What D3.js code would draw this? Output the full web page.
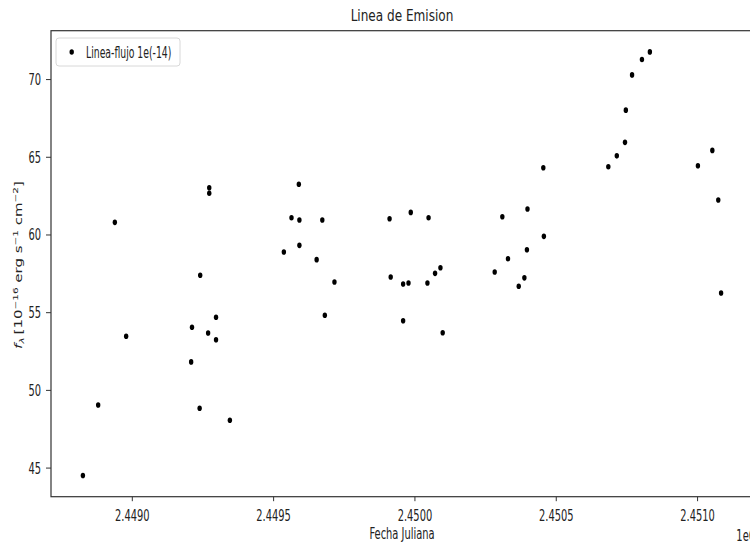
<!DOCTYPE html>
<html>
<head>
<meta charset="utf-8">
<script src="https://cdn.jsdelivr.net/npm/d3@7"></script>
<style>
  body { margin: 0; background: #fff; }
  text { font-family: "DejaVu Sans", sans-serif; fill: #222; }
</style>
</head>
<body>
<div id="canvas"></div>
<script>
(function (d3) {
  'use strict';

  // fecha juliana de cada observacion
  const fechaJuliana = [
    2448827, 2448881, 2448940, 2448980, 2449210, 2449213, 2449240, 2449242,
    2449270, 2449274, 2449274, 2449298, 2449298, 2449347, 2449538, 2449565,
    2449593, 2449591, 2449593, 2449654, 2449674, 2449683, 2449717, 2449912,
    2449916, 2449960, 2449960, 2449979, 2449987, 2450046, 2450050, 2450073,
    2450092, 2450100, 2450284, 2450311, 2450331, 2450369, 2450389, 2450398,
    2450400, 2450458, 2450456, 2450686, 2450716, 2450745, 2450748, 2450770,
    2450805, 2450833, 2451003, 2451054, 2451075, 2451085
  ];
  // flujo de la linea, 1e-16 erg s-1 cm-2
  const flujo = [
    44.49, 49.03, 60.78, 53.45, 51.80, 54.03, 48.82, 57.38,
    53.66, 63.01, 62.65, 54.67, 53.23, 48.05, 58.87, 61.08,
    60.93, 63.23, 59.30, 58.38, 60.93, 54.80, 56.94, 61.01,
    57.26, 54.45, 56.81, 56.88, 61.42, 56.88, 61.08, 57.50,
    57.86, 53.68, 57.59, 61.14, 58.44, 56.67, 57.21, 59.02,
    61.64, 59.88, 64.29, 64.36, 65.06, 65.93, 68.00, 70.27,
    71.26, 71.75, 64.42, 65.41, 62.22, 56.23
  ];
  const xTickValues = [2449000, 2449500, 2450000, 2450500, 2451000];
  const yTickValues = [45, 50, 55, 60, 65, 70];
  const titulo = 'Linea de Emision';
  const xLabel = 'Fecha Juliana';
  const serieLabel = 'Linea-flujo 1e(-14)';

  const width = 750;
  const height = 546;
  const left = 51, right = 753, top = 30.7, bottom = 496.7;
  const sx = 0.66; // the picture is squeezed sideways

  const svg = d3.select('#canvas')
    .append('svg')
    .attr('width', width)
    .attr('height', height);

  const pad = (ext) => {
    const m = (ext[1] - ext[0]) * 0.05;
    return [ext[0] - m, ext[1] + m];
  };

  const x = d3.scaleLinear().domain(pad(d3.extent(fechaJuliana))).range([left, right]);
  const y = d3.scaleLinear().domain(pad(d3.extent(flujo))).range([bottom, top]);

  const points = fechaJuliana.map((d, i) => ({ jd: d, f: flujo[i] }));

  // axes
  const xAxis = svg.append('g')
    .attr('transform', `translate(0,${bottom})`)
    .call(d3.axisBottom(x).tickValues(xTickValues).tickSize(4.5)
      .tickFormat(d => (d / 1e6).toFixed(4)));
  xAxis.select('.domain').remove();
  xAxis.selectAll('line').attr('stroke', '#333');
  xAxis.selectAll('text')
    .attr('y', null).attr('dy', null)
    .attr('transform', `translate(0,24.5) scale(${sx},1)`)
    .style('font-size', '15px').style('fill', '#222');

  const yAxis = svg.append('g')
    .attr('transform', `translate(${left},0)`)
    .call(d3.axisLeft(y).tickValues(yTickValues).tickSize(5));
  yAxis.select('.domain').remove();
  yAxis.selectAll('line').attr('stroke', '#333');
  yAxis.selectAll('text')
    .attr('x', null).attr('dy', null)
    .attr('transform', `translate(-10,5.5) scale(${sx},1)`)
    .style('font-size', '15px').style('fill', '#222');

  // spines
  svg.append('rect')
    .attr('x', left).attr('y', top)
    .attr('width', right - left).attr('height', bottom - top)
    .attr('fill', 'none').attr('stroke', '#333').attr('stroke-width', 1.2);

  // points
  svg.selectAll('ellipse.pt')
    .data(points)
    .enter()
    .append('ellipse')
    .attr('class', 'pt')
    .attr('cx', d => x(d.jd))
    .attr('cy', d => y(d.f))
    .attr('rx', 2.2)
    .attr('ry', 2.8)
    .attr('fill', 'black');

  // title and labels
  svg.append('text')
    .attr('transform', `translate(402,21) scale(0.78,1)`)
    .attr('text-anchor', 'middle')
    .style('font-size', '15.5px')
    .text(titulo);

  svg.append('text')
    .attr('transform', `translate(402,539) scale(${sx},1)`)
    .attr('text-anchor', 'middle')
    .style('font-size', '15px')
    .text(xLabel);

  svg.append('text')
    .attr('transform', `translate(755,541) scale(${sx},1)`)
    .attr('text-anchor', 'end')
    .style('font-size', '15px')
    .text('1e6');

  const yl = svg.append('text')
    .attr('transform', `translate(22,265) scale(${sx},1) rotate(-90)`)
    .attr('text-anchor', 'middle')
    .style('font-size', '15px');
  yl.append('tspan').style('font-style', 'italic').text('f');
  yl.append('tspan').attr('dy', 3).style('font-size', '10.5px').style('font-style', 'italic').text('λ');
  yl.append('tspan').attr('dy', -3).text('\u2009[10');
  yl.append('tspan').attr('dy', -6).style('font-size', '10.5px').text('−16');
  yl.append('tspan').attr('dy', 6).text(' erg s');
  yl.append('tspan').attr('dy', -6).style('font-size', '10.5px').text('−1');
  yl.append('tspan').attr('dy', 6).text(' cm');
  yl.append('tspan').attr('dy', -6).style('font-size', '10.5px').text('−2');
  yl.append('tspan').attr('dy', 6).text(']');

  // Legend
  svg.append('rect')
    .attr('x', 56).attr('y', 38).attr('width', 124).attr('height', 28)
    .attr('rx', 3).attr('fill', 'white').attr('stroke', '#d8d8d8');
  svg.append('ellipse').attr('cx', 71.7).attr('cy', 52).attr('rx', 2.2).attr('ry', 2.8).attr('fill', 'black');
  svg.append('text')
    .attr('transform', `translate(86,57.5) scale(0.6,1)`)
    .style('font-size', '15.5px')
    .text(serieLabel);

}(d3));
</script>
</body>
</html>
